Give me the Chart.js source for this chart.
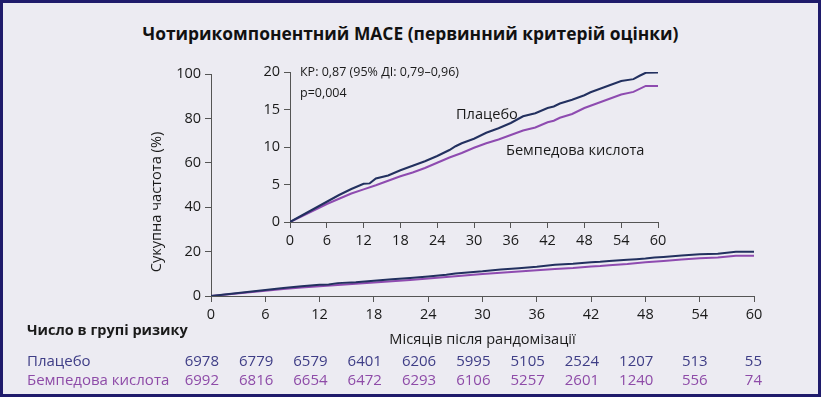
<!DOCTYPE html>
<html><head><meta charset="utf-8">
<script src="https://cdn.jsdelivr.net/npm/chart.js@4/dist/chart.umd.min.js"></script>
<style>
html,body{margin:0;padding:0;}
#wrap{position:relative;width:821px;height:397px;background:#ECEBF2;overflow:hidden;font-family:"Open Sans",sans-serif;}
#frame{position:absolute;left:0;top:0;width:821px;height:397px;box-sizing:border-box;border:3px solid #1F1B6B;pointer-events:none;}
#main{position:absolute;left:0;top:0;}
#inset{position:absolute;left:230px;top:55px;}
#title{position:absolute;left:0;width:821px;top:20px;text-align:center;font-weight:700;font-size:17.4px;color:#111;line-height:26px;}
</style></head>
<body><div id="wrap">
<div id="title">Чотирикомпонентний MACE (первинний критерій оцінки)</div>
<canvas id="main" width="821" height="397"></canvas>
<canvas id="inset" width="450" height="195"></canvas>
<div id="frame"></div>
</div>
<script>
// ---- data ----
const placeboMonths = [0,2,4,6,8,10,12,13,14,16,18,20,22,24,26,27,28,30,32,34,36,38,40,42,43,44,46,47,48,49,50,52,54,56,57,58,60];
const placeboRates  = [0,0.9,1.8,2.7,3.6,4.4,5.1,5.15,5.8,6.2,6.9,7.5,8.1,8.8,9.6,10.1,10.5,11.1,11.9,12.5,13.2,14.1,14.5,15.2,15.4,15.8,16.3,16.6,16.9,17.3,17.6,18.2,18.8,19.05,19.5,19.9,19.95];
const bempMonths = [0,2,4,6,8,10,12,14,16,18,20,22,24,26,28,30,32,34,36,38,40,42,43,44,46,48,50,52,54,56,58,60];
const bempRates  = [0,0.8,1.6,2.4,3.1,3.8,4.35,4.9,5.5,6.1,6.6,7.2,7.9,8.6,9.2,9.9,10.5,11.0,11.6,12.2,12.6,13.3,13.5,13.9,14.4,15.2,15.8,16.4,17.0,17.35,18.15,18.15];
const riskMonths = [0,6,12,18,24,30,36,42,48,54,60];
const riskPlacebo = [6978,6779,6579,6401,6206,5995,5105,2524,1207,513,55];
const riskBemp    = [6992,6816,6654,6472,6293,6106,5257,2601,1240,556,74];
const seriesNames = ["Плацебо","Бемпедова кислота"];
const mainYTicks = [0,20,40,60,80,100];
const insetYTicks = [0,5,10,15,20];
const xTicks = [0,6,12,18,24,30,36,42,48,54,60];
const yTitle = "Сукупна частота (%)";
const xTitle = "Місяців після рандомізації";
const riskTitle = "Число в групі ризику";
const hrText = "КР: 0,87 (95% ДІ: 0,79–0,96)";
const pText = "p=0,004";

const NAVY = "#22305F", PURPLE = "#8E4BB0";
const NAVY_T = "#3E3D86", PURPLE_T = "#8E4BA8";
const AXIS = "#555555", TXT = "#1a1a1a";
const FONT = "'Open Sans', sans-serif";

const pts = (xs, ys) => xs.map((x,i)=>({x:x,y:ys[i]}));
function datasets(){
  return [
    {label:seriesNames[0],data:pts(placeboMonths,placeboRates),borderColor:NAVY,borderWidth:2,pointRadius:0,tension:0,fill:false},
    {label:seriesNames[1],data:pts(bempMonths,bempRates),borderColor:PURPLE,borderWidth:2,pointRadius:0,tension:0,fill:false}
  ];
}
function axisOpts(min,max,ticksList,fit){
  return {
    type:'linear',min:min,max:max,
    afterBuildTicks:(s)=>{s.ticks=ticksList.map(v=>({value:v}));},
    afterFit:fit,
    grid:{display:true,drawOnChartArea:false,drawTicks:true,tickLength:6,color:AXIS,lineWidth:1},
    border:{display:true,color:AXIS,width:1},
    ticks:{color:TXT,font:{family:FONT,size:14.5},padding:4,autoSkip:false,maxRotation:0}
  };
}

const mainPlugin = {
  id:'mainText',
  afterDraw(chart){
    const ctx = chart.ctx, xs = chart.scales.x, a = chart.chartArea;
    ctx.save();
    ctx.fillStyle = TXT;
    ctx.font = "14.6px " + FONT;
    ctx.textAlign = 'center'; ctx.textBaseline = 'middle';
    ctx.fillText(xTitle, (a.left+a.right)/2, 340);
    ctx.save();
    ctx.translate(157, 202); ctx.rotate(-Math.PI/2);
    ctx.fillText(yTitle, 0, 0);
    ctx.restore();
    ctx.textAlign = 'left';
    ctx.font = "bold 14.5px " + FONT;
    ctx.fillText(riskTitle, 27, 331);
    ctx.font = "15px " + FONT;
    ctx.fillStyle = NAVY_T; ctx.fillText(seriesNames[0], 27, 362);
    ctx.fillStyle = PURPLE_T; ctx.fillText(seriesNames[1], 27, 381);
    ctx.textAlign = 'right';
    riskMonths.forEach((m,i)=>{
      const px = xs.getPixelForValue(m) + 8;
      ctx.fillStyle = NAVY_T; ctx.fillText(String(riskPlacebo[i]), px, 362);
      ctx.fillStyle = PURPLE_T; ctx.fillText(String(riskBemp[i]), px, 381);
    });
    ctx.restore();
  }
};

new Chart(document.getElementById('main'), {
  type:'line',
  data:{datasets:datasets()},
  options:{
    responsive:false,animation:false,
    layout:{padding:{left:144,top:74,right:67,bottom:0}},
    plugins:{legend:{display:false},tooltip:{enabled:false}},
    scales:{
      x:axisOpts(0,60,xTicks,(s)=>{s.height=101;}),
      y:axisOpts(0,100,mainYTicks,(s)=>{s.width=67;})
    }
  },
  plugins:[mainPlugin]
});

const insetPlugin = {
  id:'insetText',
  afterDraw(chart){
    const ctx = chart.ctx;
    const ox = 230, oy = 55;
    ctx.save();
    ctx.fillStyle = TXT; ctx.textBaseline='middle'; ctx.textAlign='left';
    ctx.font = "12.5px " + FONT;
    ctx.fillText(hrText, 300-ox, 72-oy);
    ctx.fillText(pText, 300-ox, 93-oy);
    ctx.font = "14.6px " + FONT;
    ctx.fillText(seriesNames[0], 456-ox, 115-oy);
    ctx.fillText(seriesNames[1], 506-ox, 151-oy);
    ctx.restore();
  }
};

new Chart(document.getElementById('inset'), {
  type:'line',
  data:{datasets:datasets()},
  options:{
    responsive:false,animation:false,
    layout:{padding:{left:0,top:17,right:22,bottom:0}},
    plugins:{legend:{display:false},tooltip:{enabled:false}},
    scales:{
      x:axisOpts(0,60,xTicks,(s)=>{s.height=28;}),
      y:axisOpts(0,20,insetYTicks,(s)=>{s.width=60;})
    }
  },
  plugins:[insetPlugin]
});
</script>
</body></html>
